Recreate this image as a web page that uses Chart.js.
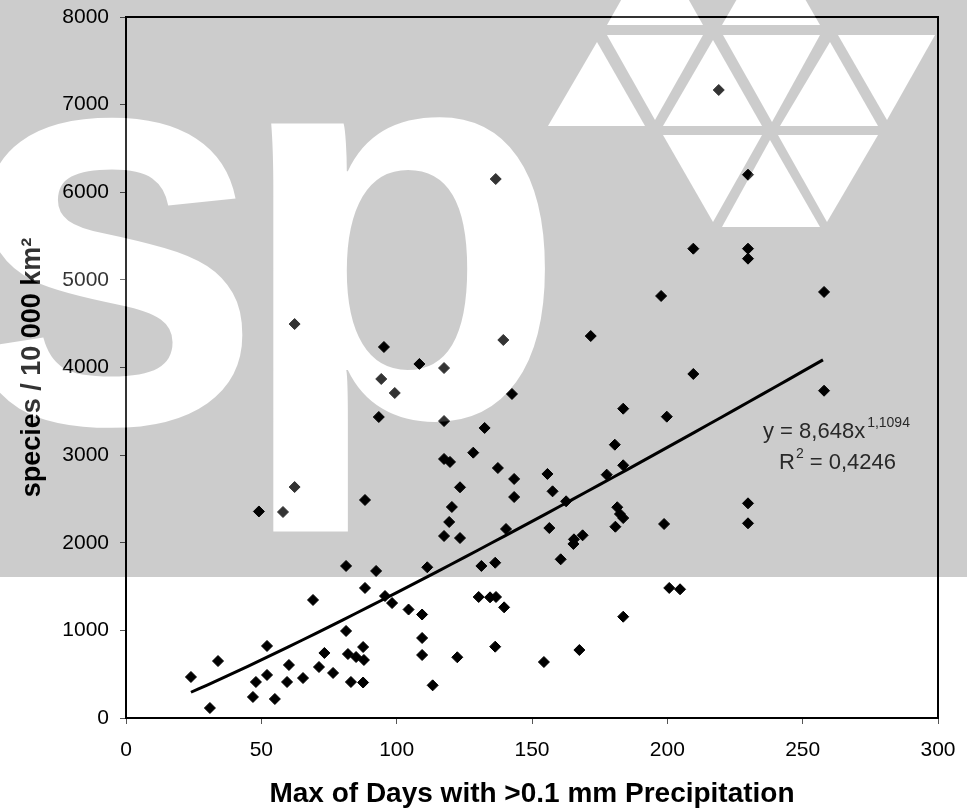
<!DOCTYPE html>
<html>
<head>
<meta charset="utf-8">
<script src="https://cdn.jsdelivr.net/npm/chart.js@4/dist/chart.umd.min.js"></script>
<style>
html,body{margin:0;padding:0;background:#fff;}
#wrap{width:967px;height:811px;}
</style>
</head>
<body>
<div id="wrap"><canvas id="c" width="967" height="811"></canvas></div>
<script>
// ---- data ----
const daysPrecip = [24.0,31.0,34.0,46.9,48.0,49.1,52.1,52.1,55.0,58.0,59.5,60.2,62.3,62.3,65.4,69.1,71.3,73.3,76.5,81.3,
  81.3,82.0,83.1,85.0,87.6,87.9,87.6,88.3,88.3,92.4,93.4,94.3,95.3,95.7,98.3,99.3,104.4,108.4,109.4,109.4,
  109.4,111.3,113.3,117.5,117.5,117.5,119.7,117.5,119.4,120.4,123.4,123.4,122.4,128.3,130.3,131.3,132.5,134.5,136.4,136.6,
  136.7,136.4,137.4,139.4,139.7,140.4,142.6,143.4,143.4,154.4,155.7,156.4,157.6,160.6,162.6,165.3,165.5,168.7,167.5,171.7,
  177.6,180.6,180.8,181.5,182.5,183.7,183.7,183.7,183.7,197.7,198.8,199.8,200.7,204.7,209.6,209.6,219.0,229.8,229.8,229.8,
  229.8,229.8,257.9,257.9];
const speciesPer10000 = [468,114,650,240,411,2357,822,491,217,2351,411,605,2636,4496,456,1347,582,742,514,993,
  1735,730,411,696,810,662,405,1484,2488,1678,3435,3869,4234,1392,1312,3709,1238,4040,1181,913,
  719,1720,373,3994,3389,2956,2922,2077,2237,2408,2633,2054,693,3028,1381,1735,3310,1377,1772,6151,
  1381,814,2853,4314,1263,2157,3698,2728,2522,639,2785,2168,2587,1811,2473,1986,2039,2085,776,4359,
  2777,3119,2183,2405,2328,2282,3530,2884,1156,4816,2214,3439,1484,1469,5356,3926,7167,6200,5356,5242,
  2450,2222,4862,3735];
// power trend line y = a * x^b (as printed on the chart)
const trendA = 8.648;
const trendB = 1.1094;
const trendX = [24,30,40,50,60,70,80,90,100,110,120,130,140,150,160,170,180,190,200,210,220,230,240,250,257.5];
const xTicks = [0,50,100,150,200,250,300];
const yTicks = [0,1000,2000,3000,4000,5000,6000,7000,8000];
const xTitle = 'Max of Days with >0.1 mm Precipitation';
const yTitle = 'species / 10 000 km²';
const eqLine1 = 'y = 8,648x';
const eqExp = '1,1094';
const eqR = 'R';
const eqRsup = '2';
const eqLine2 = ' = 0,4246';

const scatterPts = daysPrecip.map((x,i)=>({x:x, y:speciesPer10000[i]}));
const trendPts = trendX.map(x=>({x:x, y:trendA*Math.pow(x,trendB)}));

const FONT = '"Liberation Sans", Arial, sans-serif';

// watermark / background overlay (drawn after the chart)
const overlayPlugin = {
  id:'overlay',
  afterDraw(chart){
    const ctx = chart.ctx;
    const W = chart.width;
    const grayBottom = 577;
    ctx.save();
    ctx.globalCompositeOperation = 'multiply';
    ctx.fillStyle = '#cccccc';
    ctx.fillRect(0,0,W,grayBottom);
    ctx.globalCompositeOperation = 'lighter';
    ctx.fillStyle = '#333333';
    ctx.font = 'bold 100px ' + FONT;
    ctx.textAlign = 'left';
    ctx.textBaseline = 'alphabetic';
    const mp = ctx.measureText('p');
    const wp = mp.actualBoundingBoxLeft + mp.actualBoundingBoxRight;
    const hp = mp.actualBoundingBoxAscent + mp.actualBoundingBoxDescent;
    const pL=268, pR=545, pT=117, pB=533;
    const sxp = (pR-pL)/wp, syp = (pB-pT)/hp;
    ctx.save();
    ctx.translate(pL,pT); ctx.scale(sxp,syp);
    ctx.fillText('p', mp.actualBoundingBoxLeft, mp.actualBoundingBoxAscent);
    ctx.restore();
    const ms = ctx.measureText('s');
    const ws = ms.actualBoundingBoxLeft + ms.actualBoundingBoxRight;
    const hs = ms.actualBoundingBoxAscent + ms.actualBoundingBoxDescent;
    const sR=245, sT=117, sB=428;
    const sys = (sB-sT)/hs, sxs = sys*(sxp/syp);
    ctx.save();
    ctx.translate(sR - ws*sxs, sT); ctx.scale(sxs,sys);
    ctx.fillText('s', ms.actualBoundingBoxLeft, ms.actualBoundingBoxAscent);
    ctx.restore();
    const tris = [
      [[597,42],[548,126],[645,126]],
      [[607,35],[703,35],[655,120]],
      [[713,40],[663,126],[762,126]],
      [[723,35],[820,35],[772,122]],
      [[830,42],[780,126],[878,126]],
      [[838,35],[935,35],[887,120]],
      [[663,135],[762,135],[713,222]],
      [[770,140],[722,227],[820,227]],
      [[778,135],[878,135],[827,222]],
      [[655,-60],[607,25],[703,25]],
      [[771,-60],[722,25],[820,25]]
    ];
    tris.forEach(t=>{
      ctx.beginPath();
      ctx.moveTo(t[0][0],t[0][1]); ctx.lineTo(t[1][0],t[1][1]); ctx.lineTo(t[2][0],t[2][1]);
      ctx.closePath(); ctx.fill();
    });
    ctx.restore();
  }
};

const framePlugin = {
  id:'frame',
  afterDatasetsDraw(chart){
    const {ctx, chartArea:a} = chart;
    ctx.save();
    ctx.strokeStyle = '#000';
    ctx.lineWidth = 2;
    ctx.strokeRect(a.left, a.top, a.right-a.left, a.bottom-a.top);
    ctx.fillStyle = '#333';
    ctx.textAlign = 'left';
    ctx.textBaseline = 'alphabetic';
    ctx.font = '22px ' + FONT;
    const x1 = 763, y1 = 438;
    ctx.fillText(eqLine1, x1, y1);
    const w1 = ctx.measureText(eqLine1).width;
    ctx.font = '14px ' + FONT;
    ctx.fillText(eqExp, x1 + w1 + 2, y1 - 11);
    ctx.font = '22px ' + FONT;
    const x2 = 779, y2 = 469;
    ctx.fillText(eqR, x2, y2);
    const wr = ctx.measureText(eqR).width;
    ctx.font = '14px ' + FONT;
    ctx.fillText(eqRsup, x2 + wr + 1, y2 - 11);
    const ws = ctx.measureText(eqRsup).width;
    ctx.font = '22px ' + FONT;
    ctx.fillText(eqLine2, x2 + wr + 1 + ws, y2);
    ctx.restore();
  }
};

new Chart(document.getElementById('c'), {
  type:'scatter',
  data:{
    datasets:[
      {
        label:'species',
        data:scatterPts,
        pointStyle:'rectRot',
        pointRadius:5.5,
        pointBorderWidth:1,
        backgroundColor:'#000',
        borderColor:'#000',
        order:2
      },
      {
        label:'trend',
        data:trendPts,
        showLine:true,
        pointRadius:0,
        borderColor:'#000',
        borderWidth:3,
        fill:false,
        tension:0.3,
        order:1
      }
    ]
  },
  options:{
    responsive:false,
    animation:false,
    devicePixelRatio:1,
    layout:{padding:{left:0,right:29,top:17,bottom:0}},
    plugins:{legend:{display:false},tooltip:{enabled:false}},
    scales:{
      x:{
        type:'linear', min:0, max:300,
        afterBuildTicks(s){ s.ticks = xTicks.map(v=>({value:v})); },
        afterFit(s){ s.height = 93; s.paddingLeft = 0; s.paddingRight = 0; },
        ticks:{font:{family:FONT,size:21}, color:'#000', padding:14, maxRotation:0, callback:(v)=>String(v)},
        grid:{drawOnChartArea:false, drawTicks:true, tickLength:6, color:'#555', lineWidth:1},
        border:{display:true, color:'#000', width:2},
        title:{display:true, text:xTitle, color:'#000', font:{family:FONT,size:28,weight:'bold'}, padding:{top:0,bottom:0}}
      },
      y:{
        type:'linear', min:0, max:8000,
        afterBuildTicks(s){ s.ticks = yTicks.map(v=>({value:v})); },
        afterFit(s){ s.width = 126; s.paddingTop = 0; s.paddingBottom = 0; },
        ticks:{font:{family:FONT,size:21}, color:'#000', padding:11, callback:(v)=>String(v)},
        grid:{drawOnChartArea:false, drawTicks:true, tickLength:6, color:'#555', lineWidth:1},
        border:{display:true, color:'#000', width:2},
        title:{display:true, text:yTitle, color:'#000', font:{family:FONT,size:27,weight:'bold'}, padding:{top:16,bottom:0}}
      }
    }
  },
  plugins:[framePlugin, overlayPlugin]
});
</script>
</body>
</html>
